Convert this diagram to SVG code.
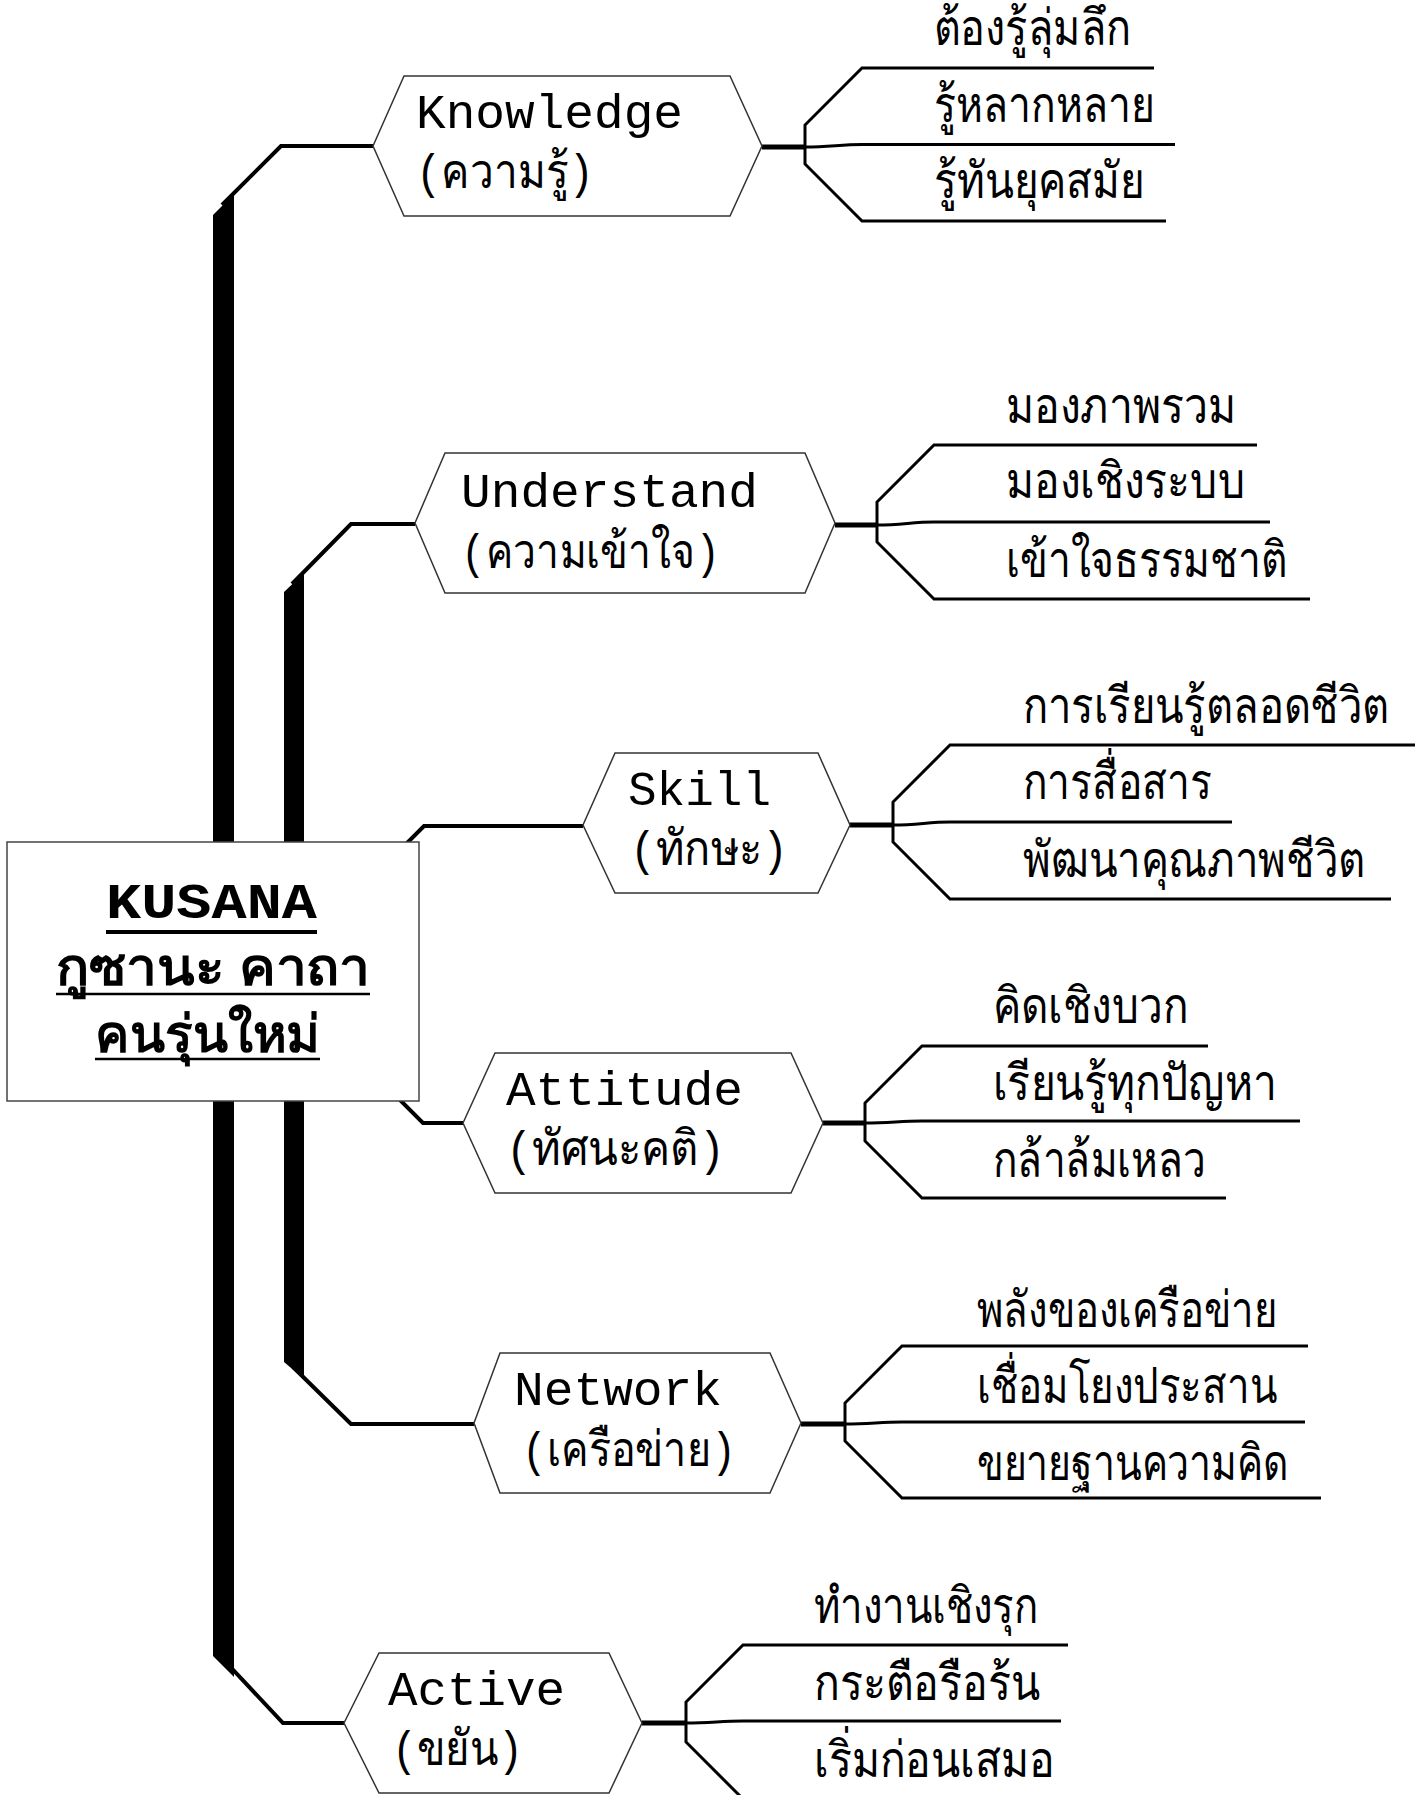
<svg xmlns="http://www.w3.org/2000/svg" width="1426" height="1795" viewBox="0 0 1426 1795">
<style>
.bg{fill:#fff}
.bar{fill:#000}
.conn{fill:none;stroke:#000;stroke-width:4;stroke-linejoin:miter}
.stem{fill:none;stroke:#000;stroke-width:5}
.fork{fill:none;stroke:#000;stroke-width:3;stroke-linejoin:miter}
.hex{fill:#fff;stroke:#333;stroke-width:1.5}
.box{fill:#fff;stroke:#444;stroke-width:1.5}
.en{font-family:"Liberation Mono",monospace;font-size:49px;fill:#000}
.th{font-family:"Noto Sans",sans-serif;font-size:50px;fill:#000}
.title{font-family:"Liberation Mono",monospace;font-size:50px;font-weight:bold;fill:#000}
.thb{font-family:"Noto Sans",sans-serif;font-size:52px;font-weight:bold;fill:#000}
.ul{stroke:#000}
</style>
<rect class="bg" x="0" y="0" width="1426" height="1795"/>
<g id="connectors">
  <polygon class="bar" points="213,215 234,194 234,1677 213,1656"/>
  <polygon class="bar" points="284,592 304,573 304,1379 284,1362"/>
  <path class="conn" d="M373,146 H281 L222,205"/>
  <path class="conn" d="M415,524 H351 L292,584"/>
  <path class="conn" d="M300,950 L424,826 H583"/>
  <path class="conn" d="M300,1000 L423,1123 H463"/>
  <path class="conn" d="M293,1367 L351,1424 H474"/>
  <path class="conn" d="M222,1658 L283,1723 H344"/>
  <!-- Knowledge fork -->
  <path class="stem" d="M762,147 H806"/>
  <path class="fork" d="M1154,68 H862 L805,125 V164 L862,221 H1166"/>
  <path class="fork" d="M805,147 C830,147 840,144.5 862,144.5 H1175"/>
  <!-- Understand fork -->
  <path class="stem" d="M835,525 H878"/>
  <path class="fork" d="M1257,445 H934 L877,502 V542 L934,599 H1310"/>
  <path class="fork" d="M877,525 C902,525 912,522 934,522 H1270"/>
  <!-- Skill fork -->
  <path class="stem" d="M850,825 H894"/>
  <path class="fork" d="M1415,745 H950 L893,802 V842 L950,899 H1391"/>
  <path class="fork" d="M893,825 C918,825 928,822 950,822 H1232"/>
  <!-- Attitude fork -->
  <path class="stem" d="M823,1123 H866"/>
  <path class="fork" d="M1208,1046 H922 L865,1103 V1141 L922,1198 H1226"/>
  <path class="fork" d="M865,1123 C890,1123 900,1121 922,1121 H1300"/>
  <!-- Network fork -->
  <path class="stem" d="M801,1424 H846"/>
  <path class="fork" d="M1308,1346 H902 L845,1403 V1441 L902,1498 H1321"/>
  <path class="fork" d="M845,1424 C870,1424 880,1422 902,1422 H1305"/>
  <!-- Active fork -->
  <path class="stem" d="M642,1723 H687"/>
  <path class="fork" d="M1068,1645 H743 L686,1702 V1742 L743,1799 H1080"/>
  <path class="fork" d="M686,1723 C711,1723 721,1721 743,1721 H1061"/>
</g>
<g id="center">
  <rect class="box" x="7" y="842" width="412" height="259"/>
  <text class="title" x="106" y="918" textLength="211" lengthAdjust="spacingAndGlyphs">KUSANA</text>
  <line class="ul" x1="106" y1="932" x2="317" y2="932" stroke-width="4"/>
  <text class="thb" x="56" y="985" textLength="314" lengthAdjust="spacingAndGlyphs">กูซานะ คาถา</text>
  <line class="ul" x1="56" y1="994" x2="370" y2="994" stroke-width="2.5"/>
  <text class="thb" x="95" y="1052" textLength="225" lengthAdjust="spacingAndGlyphs">คนรุ่นใหม่</text>
  <line class="ul" x1="95" y1="1059" x2="320" y2="1059" stroke-width="2.5"/>
</g>
<g id="knowledge">
  <polygon class="hex" points="373,146 404,76 730,76 762,146 730,216 404,216"/>
  <text class="en" x="416" y="128" textLength="267" lengthAdjust="spacingAndGlyphs">Knowledge</text>
  <text class="en" x="416" y="188" textLength="178" lengthAdjust="spacingAndGlyphs">(ความรู้)</text>
  <text class="th" x="934" y="45" textLength="197" lengthAdjust="spacingAndGlyphs">ต้องรู้ลุ่มลึก</text>
  <text class="th" x="934" y="122" textLength="221" lengthAdjust="spacingAndGlyphs">รู้หลากหลาย</text>
  <text class="th" x="934" y="198" textLength="211" lengthAdjust="spacingAndGlyphs">รู้ทันยุคสมัย</text>
</g>
<g id="understand">
  <polygon class="hex" points="415,523 445,453 805,453 835,523 805,593 445,593"/>
  <text class="en" x="461" y="507" textLength="297" lengthAdjust="spacingAndGlyphs">Understand</text>
  <text class="en" x="461" y="568" textLength="259" lengthAdjust="spacingAndGlyphs">(ความเข้าใจ)</text>
  <text class="th" x="1006" y="423" textLength="230" lengthAdjust="spacingAndGlyphs">มองภาพรวม</text>
  <text class="th" x="1006" y="498" textLength="239" lengthAdjust="spacingAndGlyphs">มองเชิงระบบ</text>
  <text class="th" x="1006" y="577" textLength="281" lengthAdjust="spacingAndGlyphs">เข้าใจธรรมชาติ</text>
</g>
<g id="skill">
  <polygon class="hex" points="583,825 615,753 818,753 850,825 818,893 615,893"/>
  <text class="en" x="628" y="805" textLength="143" lengthAdjust="spacingAndGlyphs">Skill</text>
  <text class="en" x="630" y="865" textLength="158" lengthAdjust="spacingAndGlyphs">(ทักษะ)</text>
  <text class="th" x="1023" y="723" textLength="366" lengthAdjust="spacingAndGlyphs">การเรียนรู้ตลอดชีวิต</text>
  <text class="th" x="1023" y="799" textLength="189" lengthAdjust="spacingAndGlyphs">การสื่อสาร</text>
  <text class="th" x="1023" y="877" textLength="342" lengthAdjust="spacingAndGlyphs">พัฒนาคุณภาพชีวิต</text>
</g>
<g id="attitude">
  <polygon class="hex" points="463,1123 495,1053 791,1053 823,1123 791,1193 495,1193"/>
  <text class="en" x="506" y="1105" textLength="237" lengthAdjust="spacingAndGlyphs">Attitude</text>
  <text class="en" x="506" y="1165" textLength="219" lengthAdjust="spacingAndGlyphs">(ทัศนะคติ)</text>
  <text class="th" x="993" y="1023" textLength="195" lengthAdjust="spacingAndGlyphs">คิดเชิงบวก</text>
  <text class="th" x="993" y="1100" textLength="284" lengthAdjust="spacingAndGlyphs">เรียนรู้ทุกปัญหา</text>
  <text class="th" x="993" y="1177" textLength="213" lengthAdjust="spacingAndGlyphs">กล้าล้มเหลว</text>
</g>
<g id="network">
  <polygon class="hex" points="474,1423 500,1353 770,1353 801,1423 770,1493 500,1493"/>
  <text class="en" x="514" y="1405" textLength="208" lengthAdjust="spacingAndGlyphs">Network</text>
  <text class="en" x="522" y="1466" textLength="214" lengthAdjust="spacingAndGlyphs">(เครือข่าย)</text>
  <text class="th" x="977" y="1327" textLength="300" lengthAdjust="spacingAndGlyphs">พลังของเครือข่าย</text>
  <text class="th" x="977" y="1403" textLength="300" lengthAdjust="spacingAndGlyphs">เชื่อมโยงประสาน</text>
  <text class="th" x="977" y="1480" textLength="311" lengthAdjust="spacingAndGlyphs">ขยายฐานความคิด</text>
</g>
<g id="active">
  <polygon class="hex" points="344,1723 379,1653 609,1653 642,1723 609,1793 379,1793"/>
  <text class="en" x="388" y="1705" textLength="177" lengthAdjust="spacingAndGlyphs">Active</text>
  <text class="en" x="392" y="1765" textLength="131" lengthAdjust="spacingAndGlyphs">(ขยัน)</text>
  <text class="th" x="814" y="1623" textLength="224" lengthAdjust="spacingAndGlyphs">ทำงานเชิงรุก</text>
  <text class="th" x="814" y="1700" textLength="226" lengthAdjust="spacingAndGlyphs">กระตือรือร้น</text>
  <text class="th" x="814" y="1777" textLength="241" lengthAdjust="spacingAndGlyphs">เริ่มก่อนเสมอ</text>
</g>
</svg>
